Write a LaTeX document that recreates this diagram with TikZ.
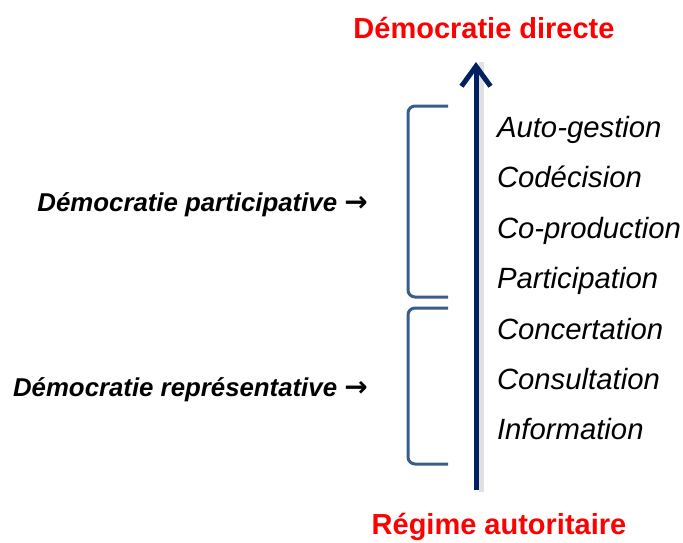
\documentclass[tikz,border=0pt]{standalone}
\usepackage{fontspec}
\setmainfont{Liberation Sans}
\newfontfamily\symfont{DejaVu Sans}
\usetikzlibrary{arrows.meta, positioning}

\definecolor{marine}{HTML}{002060}
\definecolor{acier}{HTML}{385D8A}

\begin{document}
\begin{tikzpicture}[
  x=1pt, y=-1pt,
  node distance=21pt,
  etape/.style={text width=190pt, align=left, inner sep=0pt, text height=22pt, text depth=7pt,
    font=\fontsize{29.3}{34}\selectfont\itshape},
  titre/.style={inner sep=0pt, text=red, font=\fontsize{29}{34}\selectfont\bfseries},
  niveau/.style={anchor=east, inner sep=0pt, font=\fontsize{25.8}{30}\selectfont\bfseries\itshape},
  fleche/.style={-{Straight Barb[length=20pt, width=29pt]}, line width=5pt, draw=marine},
  accolade/.style={draw=acier, line width=3pt, rounded corners=7pt},
]
\useasboundingbox (0,0) rectangle (683,542);

% Nodes
\node[titre] (directe) at (484,28) {Démocratie directe};
\node[titre] (regime)  at (499,527) {Régime autoritaire};

\node[etape] (auto)                         at (592,130) {Auto-gestion};
\node[etape] (codecision)    [below=of auto]          {Codécision};
\node[etape] (coproduction)  [below=of codecision]    {Co-production};
\node[etape] (participation) [below=of coproduction]  {Participation};
\node[etape] (concertation)  [below=of participation] {Concertation};
\node[etape] (consultation)  [below=of concertation]  {Consultation};
\node[etape] (information)   [below=of consultation]  {Information};

\node[niveau] (participative)   at (368,205) {Démocratie participative {\symfont\fontsize{28}{30}\selectfont\bfseries\upshape →}};
\node[niveau] (representative)  at (368,390) {Démocratie représentative {\symfont\fontsize{28}{30}\selectfont\bfseries\upshape →}};

\coordinate (bas)  at (476,490);
\coordinate (haut) at (476,62);

% Brackets
\draw[accolade] (448,106) -- (408,106) -- (408,297) -- (448,297);
\draw[accolade] (448,308) -- (408,308) -- (408,464) -- (448,464);

% Arrows
\draw[line width=5pt, draw=black!20, opacity=0.6] ([shift={(5,2)}]bas) -- ([shift={(5,0)}]haut);
\draw[fleche] (bas) -- (haut);

\end{tikzpicture}
\end{document}
